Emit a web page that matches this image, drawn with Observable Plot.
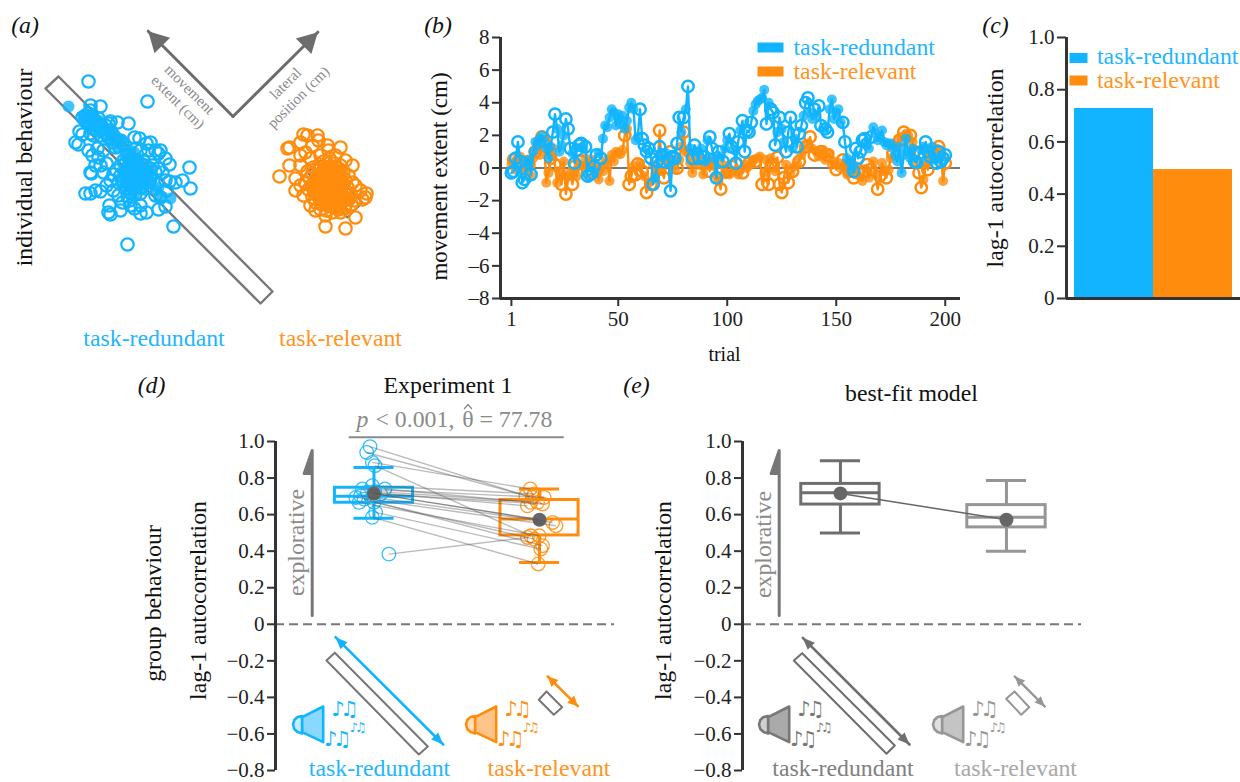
<!DOCTYPE html>
<html><head><meta charset="utf-8">
<script src="https://cdn.jsdelivr.net/npm/d3@7"></script>
<script src="https://cdn.jsdelivr.net/npm/@observablehq/plot@0.6"></script>
<style>
html,body{margin:0;padding:0;background:#fff}
#page{position:relative;width:1240px;height:782px;overflow:hidden}
#page svg{position:absolute;background:transparent}
g[font-family="DejaVu Sans"] text{letter-spacing:-0.22em}
</style></head><body><div id="page"></div>
<script>
const BLUE="#12B4FF", ORANGE="#FF8C0D", SERIF="Liberation Serif", TEXTBLUE="#1FB6FF", TEXTORANGE="#FF9420";

// (a) scatter
const scatterRedundantOpen=[[88,81],[147,101],[127,244],[173,226],[90,105],[100,106],[189,167],[182,180],[190,188],[175,182],[166,190],[169,181],[158,209],[165,206],[160,197],[110,121],[117,122],[128,123],[134,137],[139,138],[146,143],[150,142],[155,150],[158,153],[169,164],[120,140],[108,123],[79,131],[82,134],[78,144],[75,142],[90,133],[93,135],[97,148],[103,150],[88,150],[92,155],[98,157],[106,163],[100,165],[103,172],[91,173],[113,174],[90,172],[95,165],[110,180],[85,193],[90,193],[95,190],[100,191],[109,205],[110,214],[108,212],[120,210],[122,202],[130,205],[140,213],[146,212],[140,205],[155,195],[134,208],[129,200],[118,195],[113,190],[106,185],[150,178],[162,172],[165,180],[160,150],[165,158],[148,150],[140,150],[135,148],[128,155],[143,160],[152,165],[158,168],[132,170],[127,180],
[82,117],[85,115],[88,113],[91,117],[86,122],[90,124],[94,120],[98,118],[95,125],[100,124],[92,128],[97,130],[102,129],[105,125],[100,135],[105,133],[110,130],[108,137],[113,135],[112,142],[117,140],[118,146],[122,143],[115,147],[85,120],[90,110],
[116,170],[120,165],[125,163],[130,160],[135,160],[140,163],[145,165],[150,168],[155,172],[120,175],[125,172],[130,170],[135,168],[140,170],[145,172],[150,175],[118,182],[122,180],[128,178],[133,176],[138,178],[143,180],[148,182],[125,188],[130,185],[135,186],[140,187],[145,188],[130,192],[135,194],[140,193],[127,196],[123,160],[128,167],[137,173]];
const scatterRedundantFilled=[[68,106],[158,187],[170,198],[161,196],[155,190],[125,155],[130,150],[135,160],[83,116],[88,118],[93,114],[86,124],[92,122],[98,120],[96,127],[102,124],[100,131],[106,128],[106,135],[112,133],[111,140],[116,139],[118,145],[122,140],[127,163],[133,161],[139,165],[145,168],[151,170],[122,170],[128,172],[134,170],[140,172],[146,175],[152,176],[120,178],[126,180],[132,178],[138,180],[144,182],[150,182],[125,186],[131,186],[137,187],[143,187],[130,191],[136,192],[134,152],[128,158]];
const scatterRelevantOpen=[[279,176],[289,147],[287,148],[289,165],[303,134],[307,135],[317,135],[300,142],[312,145],[318,140],[300,155],[305,152],[310,158],[300,165],[295,178],[300,185],[295,190],[303,195],[310,205],[315,210],[325,215],[345,228],[325,226],[340,212],[355,217],[362,199],[366,193],[365,197],[360,190],[355,185],[352,165],[345,160],[340,147],[327,145],[335,155],[340,165],[348,175],[352,182],[320,155],[328,150],
[323,161],[329,158],[334,163],[313,167],[319,164],[326,167],[331,166],[338,168],[343,171],[307,171],[312,173],[318,170],[324,172],[330,174],[336,173],[342,176],[309,178],[315,180],[321,177],[327,179],[333,178],[339,181],[345,180],[305,182],[311,185],[317,183],[323,186],[329,184],[335,186],[341,185],[347,187],[308,189],[314,191],[320,190],[326,192],[332,190],[338,192],[344,191],[350,193],[312,197],[318,196],[324,198],[330,197],[336,199],[342,197],[348,199],[354,200],[315,202],[321,204],[327,203],[333,205],[339,203],[345,205],[351,204],[320,209],[326,210],[332,212],[338,209],[344,208]];
const scatterRelevantFilled=[[322,168],[328,165],[334,168],[340,172],[316,175],[322,174],[328,172],[334,176],[340,178],[314,182],[320,181],[326,182],[332,181],[338,184],[344,183],[312,188],[318,187],[324,189],[330,188],[336,189],[342,188],[316,194],[322,195],[328,194],[334,195],[340,195],[346,196],[320,200],[326,201],[332,200],[338,201],[344,201],[350,199],[328,207],[334,208],[340,206]];

// (b) movement extent per trial
const redundantExtent=[-0.3,-0.2,0.6,1.6,0.4,-0.9,-0.7,0.3,0.5,-0.4,1.0,1.6,1.4,1.8,2.0,1.6,1.2,0.6,1.3,2.2,3.3,2.4,1.0,1.4,2.0,3.0,2.4,1.2,0.9,0.3,1.1,1.4,1.5,1.2,1.3,-0.5,-0.4,-0.3,0.1,0.8,0.9,0.6,1.8,2.6,2.5,3.1,3.6,3.4,2.6,3.3,2.7,3.2,2.4,2.9,3.7,4.0,3.6,1.7,1.9,3.6,1.8,1.4,1.0,1.2,0.6,-1.0,-0.6,0.4,1.3,0.8,0.4,0.9,0.5,-1.4,0.7,0.6,1.5,3.1,2.2,3.1,3.6,5.0,1.2,0.6,1.4,1.0,0.6,1.2,0.7,0.4,1.7,1.9,1.2,0.6,-0.6,1.0,0.7,0.4,1.2,1.7,2.1,1.3,1.1,0.3,1.6,2.3,2.9,1.0,2.3,2.2,2.8,3.5,3.9,4.1,4.2,4.3,4.8,2.7,4.0,3.6,3.4,1.4,2.2,3.1,2.4,1.6,1.0,2.2,3.1,1.2,1.8,1.3,2.1,2.6,3.2,4.0,4.3,3.4,3.0,3.6,3.2,3.8,2.6,2.4,2.4,2.2,3.6,4.2,3.0,3.4,3.6,2.8,2.8,1.6,0.6,0.4,-0.1,-0.2,1.2,0.6,1.0,1.7,1.8,1.4,1.2,1.9,2.5,2.1,1.7,1.9,2.3,1.6,1.4,1.5,1.5,1.2,0.8,0.4,1.3,-0.3,0.8,1.8,1.0,0.6,1.2,0.4,0.35,0.9,1.1,1.3,1.6,1.0,0.7,1.3,0.5,0.3,1.0,0.4,0.6,0.8];
const relevantExtent=[0.2,0.5,-0.1,0.4,0.7,0.3,-0.2,0.5,0.2,-0.5,0.6,1.0,1.6,0.8,1.9,1.6,-0.9,-0.3,0.6,1.2,0.2,-0.9,-0.2,-1.0,0.4,-1.6,-0.5,-0.3,-1.0,0.1,-0.5,0.2,0.4,0.1,0.6,-0.2,0.3,0.5,-0.1,-0.2,-0.7,0.1,-0.2,0.3,0.5,-0.8,0.8,0.4,1.0,0.9,0.85,1.1,2.0,2.4,-1.0,-0.5,0.1,-0.4,0.25,0.3,-0.2,-0.5,-1.5,-0.9,-1.0,0.2,-0.4,-0.1,2.3,-0.2,-0.6,0.6,0.3,1.0,0.5,-0.1,0.0,0.5,1.3,2.2,1.0,0.9,0.3,-0.3,0.6,0.2,0.8,0.3,-0.4,0.1,0.5,-0.2,0.4,0.1,-0.5,-0.8,-1.3,0.2,-0.4,-0.2,-0.4,0.1,-0.2,0.25,-0.4,-0.1,-0.3,0.2,0.0,0.3,0.3,0.5,0.4,0.6,0.7,-1.0,-0.3,0.5,-1.0,0.6,0.2,-0.2,0.65,-1.0,-1.5,-0.6,0.2,-0.9,-0.3,-0.2,0.1,0.3,0.4,0.8,1.1,1.3,1.5,1.9,1.2,0.8,1.0,0.7,1.0,1.1,0.5,0.8,0.9,0.2,0.4,-0.1,0.3,0.0,0.5,0.2,-0.4,-0.2,0.3,-0.6,0.1,-0.3,-0.5,-0.8,-0.2,0.2,-0.6,-0.1,0.4,-0.4,-1.3,-0.5,0.3,-0.2,-0.6,-0.1,0.6,0.9,1.3,1.6,1.7,1.9,2.2,2.1,2.0,2.0,1.6,1.0,0.2,-0.3,-1.2,-0.7,0.3,-0.1,0.5,0.9,1.0,1.2,1.3,1.0,-0.8,0.3];
const redundantOpenTrials=[1,2,3,4,5,6,7,10,20,21,26,27,28,30,31,32,33,35,36,37,38,39,40,42,60,61,62,63,64,65,66,68,69,70,71,73,74,75,76,77,78,80,82,84,85,87,89,92,93,95,96,98,101,102,104,105,107,108,109,110,111,118,120,121,122,124,127,128,129,132,133,134,136,137,140,142,143,145,146,153,154,158,159,160,161,162,163,166,186,187,188,191,192,193,196,197,198,199,200];
const relevantOpenTrials=[2,4,6,9,12,15,16,19,21,24,26,29,30,33,36,40,53,55,56,58,59,61,63,65,69,71,74,77,80,85,88,92,97,100,102,104,107,110,113,116,119,121,123,124,125,126,128,130,133,136,138,140,143,146,150,153,156,158,160,163,164,166,169,170,173,176,179,181,184,186,188,189,192,194,197,200];
const trialTicks=[1,50,100,150,200];
const extentTicks=[-8,-6,-4,-2,0,2,4,6,8];

// (c) single participant autocorrelation
const conditions=["task-redundant","task-relevant"];
const autocorr=[0.728,0.494];
const autoTicks=[0,0.2,0.4,0.6,0.8,1.0];
const groupTicks=[-0.8,-0.6,-0.4,-0.2,0,0.2,0.4,0.6,0.8,1.0];

// (d) participants: redundant value, relevant value, horizontal jitter of each
const subjRedundant=[0.972,0.940,0.886,0.868,0.758,0.740,0.740,0.727,0.722,0.713,0.703,0.694,0.685,0.667,0.667,0.612,0.585,0.384];
const subjRelevant=[0.703,0.694,0.740,0.484,0.713,0.694,0.667,0.667,0.648,0.658,0.557,0.539,0.430,0.484,0.466,0.412,0.330,0.475];
const jitterRedundant=[-0.024,-0.044,-0.01,0.006,-0.01,-0.07,0.066,0.004,-0.04,0.04,-0.08,-0.11,-0.06,-0.09,0,0.01,-0.01,0.09];
const jitterRelevant=[0.917,0.958,0.944,0.948,0.968,1.028,0.948,0.988,0.927,1.018,1.079,1.099,1.018,0.998,0.968,1.008,0.992,0.927];
// box statistics: [low whisker, q1, median, q3, high whisker, mean]
const boxExperiment=[[0.58,0.665,0.70,0.747,0.858,0.715],[0.338,0.486,0.576,0.68,0.74,0.572]];
const boxModel=[[0.50,0.655,0.72,0.768,0.895,0.716],[0.40,0.530,0.585,0.652,0.786,0.572]];

const page=document.getElementById("page");
function place(svg,left,top){svg.style.left=left+"px";svg.style.top=top+"px";page.appendChild(svg);}
const baseStyle={fontFamily:SERIF,fontSize:"21px",background:"transparent",color:"#222"};
const oneDec=d=>d===0?"0":d3.format(".1f")(d).replace("-","\u2013");

// ---------- (b)
function seriesMarks(values,openTrials,color){
  const rows=values.map((v,i)=>({t:i+1,v,open:openTrials.includes(i+1)}));
  return [
    Plot.line(rows,{x:"t",y:"v",stroke:color,strokeWidth:2.4}),
    Plot.dot(rows.filter(d=>!d.open),{x:"t",y:"v",r:5,fill:color,fillOpacity:0.8,stroke:"none"}),
    Plot.dot(rows.filter(d=>d.open),{x:"t",y:"v",r:5.7,fill:"none",stroke:color,strokeWidth:2.5})
  ];
}
place(Plot.plot({width:540,height:330,marginLeft:70,marginRight:10,marginTop:17,marginBottom:52,style:baseStyle,
  x:{domain:[-4,207],axis:null},y:{domain:[-8,8]},
  marks:[
    Plot.ruleY([0],{stroke:"#777",strokeWidth:2}),
    ...seriesMarks(relevantExtent,relevantOpenTrials,ORANGE),
    ...seriesMarks(redundantExtent,redundantOpenTrials,BLUE),
    Plot.ruleX([-4],{stroke:"#333",strokeWidth:3}),
    Plot.ruleY([-8],{stroke:"#333",strokeWidth:3}),
    Plot.axisY({ticks:extentTicks,tickSize:8,tickPadding:3,label:null,strokeWidth:2,stroke:"#333",tickFormat:d=>String(d).replace("-","\u2013")}),
    Plot.axisX({ticks:trialTicks,tickSize:8,tickPadding:5,label:null,strokeWidth:2,stroke:"#333"})
  ]}),430,20);

// ---------- (c)
place(Plot.plot({width:265,height:290,marginLeft:91,marginRight:0,marginTop:17,marginBottom:12,style:baseStyle,
  x:{domain:conditions,range:[98,257],padding:0,axis:null},y:{domain:[0,1]},
  color:{domain:conditions,range:[BLUE,ORANGE]},
  marks:[
    Plot.barY(conditions,{x:d=>d,y:(d,i)=>autocorr[i],fill:d=>d}),
    Plot.ruleY([0],{stroke:"#333",strokeWidth:3}),
    Plot.axisY({ticks:autoTicks,tickSize:9,tickPadding:3,label:null,strokeWidth:2,stroke:"#333",tickFormat:oneDec})
  ]}),975,20);
// left spine of (c)
place(Plot.plot({width:10,height:290,marginLeft:0,marginRight:0,marginTop:17,marginBottom:12,style:baseStyle,
  x:{domain:[0,1],axis:null},y:{domain:[0,1],axis:null},
  marks:[Plot.ruleX([0.5],{stroke:"#333",strokeWidth:3})]}),1061,20);

// ---------- (d) and (e)
function boxMarks(stats,colors){
  const rows=stats.map((s,i)=>({p:i,lo:s[0],q1:s[1],med:s[2],q3:s[3],hi:s[4],mean:s[5],c:colors[i]}));
  const W=0.236,C=0.121;
  return [
    Plot.ruleX(rows,{x:"p",y1:"lo",y2:"q1",stroke:"c",strokeWidth:3}),
    Plot.ruleX(rows,{x:"p",y1:"q3",y2:"hi",stroke:"c",strokeWidth:3}),
    Plot.ruleY(rows,{y:"lo",x1:d=>d.p-C,x2:d=>d.p+C,stroke:"c",strokeWidth:3}),
    Plot.ruleY(rows,{y:"hi",x1:d=>d.p-C,x2:d=>d.p+C,stroke:"c",strokeWidth:3}),
    Plot.rect(rows,{x1:d=>d.p-W,x2:d=>d.p+W,y1:"q1",y2:"q3",fill:"none",stroke:"c",strokeWidth:3}),
    Plot.ruleY(rows,{y:"med",x1:d=>d.p-W,x2:d=>d.p+W,stroke:"c",strokeWidth:3}),
    Plot.dot(rows,{x:"p",y:"mean",r:7,fill:"#666",stroke:"none"})
  ];
}
const subj=subjRedundant.map((v,i)=>({a:v,b:subjRelevant[i],ja:jitterRedundant[i],jb:jitterRelevant[i]}));
place(Plot.plot({width:420,height:352,marginLeft:75,marginRight:6,marginTop:11,marginBottom:12,style:baseStyle,
  x:{domain:[-0.595,1.453],axis:null},y:{domain:[-0.8,1]},
  marks:[
    Plot.ruleY([0],{stroke:"#777",strokeWidth:2,strokeDasharray:"9 5"}),
    Plot.dot(subj,{x:"ja",y:"a",r:6.8,fill:"none",stroke:BLUE,strokeOpacity:0.85,strokeWidth:1.3}),
    Plot.dot(subj,{x:"jb",y:"b",r:6.8,fill:"none",stroke:ORANGE,strokeOpacity:0.85,strokeWidth:1.3}),
    ...boxMarks(boxExperiment,[BLUE,ORANGE]),
    Plot.link(subj,{x1:"ja",y1:"a",x2:"jb",y2:"b",stroke:"#555",strokeOpacity:0.4,strokeWidth:1.4}),
    Plot.link([0],{x1:()=>0,y1:()=>boxExperiment[0][5],x2:()=>1,y2:()=>boxExperiment[1][5],stroke:"#555",strokeOpacity:0.7,strokeWidth:1.4}),
    Plot.ruleX([-0.595],{stroke:"#333",strokeWidth:3}),
    Plot.axisY({ticks:groupTicks,tickSize:8,tickPadding:3,label:null,strokeWidth:2,stroke:"#333",tickFormat:oneDec})
  ]}),200,430);
place(Plot.plot({width:420,height:352,marginLeft:77,marginRight:4,marginTop:11,marginBottom:12,style:baseStyle,
  x:{domain:[-0.59,1.452],axis:null},y:{domain:[-0.8,1]},
  marks:[
    Plot.ruleY([0],{stroke:"#777",strokeWidth:2,strokeDasharray:"9 5"}),
    ...boxMarks(boxModel,["#6E6E6E","#969696"]),
    Plot.link([0],{x1:()=>0,y1:()=>boxModel[0][5],x2:()=>1,y2:()=>boxModel[1][5],stroke:"#666",strokeWidth:1.5}),
    Plot.ruleX([-0.59],{stroke:"#333",strokeWidth:3}),
    Plot.axisY({ticks:groupTicks,tickSize:8,tickPadding:3,label:null,strokeWidth:2,stroke:"#333",tickFormat:oneDec})
  ]}),665,430);

// ---------- full-page schematic layer: panel (a), labels, speakers, arrows
const pts=a=>a.map(([x,y])=>({x,y}));
function poly(points,o){return Plot.line(pts(points),{x:"x",y:"y",...o});}
function closed(points){return [...points,points[0],points[1]];}
function head(from,to,len,wid){
  const dx=to[0]-from[0],dy=to[1]-from[1],n=Math.hypot(dx,dy),ux=dx/n,uy=dy/n;
  const bx=to[0]-ux*len,by=to[1]-uy*len;
  return [to,[bx-uy*wid/2,by+ux*wid/2],[bx+uy*wid/2,by-ux*wid/2],to];
}
function arrow(a,b,color,sw,len,wid,both=true){
  const m=[poly([a,b],{stroke:color,strokeWidth:sw}),poly(head(a,b,len,wid),{fill:color,stroke:"none"})];
  if(both)m.push(poly(head(b,a,len,wid),{fill:color,stroke:"none"}));
  return m;
}
const swatch=(a,b,c)=>poly([a,b],{stroke:c,strokeWidth:10,strokeLinecap:"butt"});
const bodyOutline=[[301.7,716.7],[322.7,706],[322.7,741.7],[301.7,731.7]];
const capOutline=[[301.7,715.5],[297,716.5],[293.8,719.5],[292.5,724],[293.8,728.5],[297,731.5],[301.7,733]];
function notes(cx,cy,size,fill){
  return txt("\u266A\u266B",cx,cy,{fontFamily:"DejaVu Sans",fontSize:size,fill});
}
function speaker(dx,dy,stroke,fill,capFill){
  const s=p=>p.map(([x,y])=>[x+dx,y+dy]);
  return [
    poly(closed(s(capOutline)),{fill:capFill,stroke,strokeWidth:2.6}),
    poly(closed(s(bodyOutline)),{fill,stroke,strokeWidth:2.6}),
    notes(342.3+dx,708.3+dy,21,stroke),
    notes(335+dx,738.3+dy,21,stroke),
    notes(356+dx,727.3+dy,13,stroke)
  ];
}
function txt(t,x,y,o={}){return Plot.text([{t,x,y}],{x:"x",y:"y",text:"t",fontSize:23.8,lineAnchor:"middle",fill:"#111",...o});}
const gray="#8A8A8A";
place(Plot.plot({width:1240,height:782,margin:0,style:baseStyle,
  x:{domain:[0,1240],range:[0,1240],axis:null},y:{domain:[0,782],range:[0,782],axis:null},
  marks:[
    // panel (a) frame + axes
    poly(closed([[45,88],[58,76],[272,291],[260,303]]),{stroke:"#777",strokeWidth:2.4}),
    poly(closed([[307,172],[320,160],[362,202],[347,217]]),{stroke:"#777",strokeWidth:2}),
    ...arrow([232.5,116],[147.7,30.7],"#6C6C6C",3,20,22,false),
    ...arrow([232.5,116],[317.3,31.7],"#6C6C6C",3,20,22,false),
    txt("movement",189,89,{fontSize:15,fill:gray,rotate:45}),
    txt("extent (cm)",177.5,101.7,{fontSize:15,fill:gray,rotate:45}),
    txt("lateral",285,83,{fontSize:15,fill:gray,rotate:-45}),
    txt("position (cm)",298,96.7,{fontSize:15,fill:gray,rotate:-45}),
    Plot.dot(pts(scatterRedundantOpen),{x:"x",y:"y",r:6.2,fill:"none",stroke:BLUE,strokeWidth:2.2}),
    Plot.dot(pts(scatterRedundantFilled),{x:"x",y:"y",r:6,fill:BLUE,fillOpacity:0.8}),
    Plot.dot(pts(scatterRelevantOpen),{x:"x",y:"y",r:6.2,fill:"none",stroke:ORANGE,strokeWidth:2.2}),
    Plot.dot(pts(scatterRelevantFilled),{x:"x",y:"y",r:6,fill:ORANGE}),
    // panel letters
    txt("(a)",24.5,25,{fontStyle:"italic"}),
    txt("(b)",437.5,25,{fontStyle:"italic"}),
    txt("(c)",995,25,{fontStyle:"italic"}),
    txt("(d)",151,385,{fontStyle:"italic"}),
    txt("(e)",636,385,{fontStyle:"italic"}),
    // axis / side labels
    txt("individual behaviour",24,167,{rotate:-90}),
    txt("movement extent (cm)",439,176,{rotate:-90,fontSize:23}),
    txt("trial",724,354,{fontSize:20}),
    txt("lag-1 autocorrelation",995,167.5,{rotate:-90}),
    txt("group behaviour",153,603,{rotate:-90}),
    txt("lag-1 autocorrelation",198,600,{rotate:-90}),
    txt("lag-1 autocorrelation",663,600,{rotate:-90}),
    // legends and condition labels
    txt(conditions[0],153.5,338,{fill:TEXTBLUE}),
    txt(conditions[1],340,338,{fill:TEXTORANGE}),
    swatch([757,47],[783,47],BLUE),
    swatch([757,71],[783,71],ORANGE),
    txt(conditions[0],793,47,{fill:TEXTBLUE,textAnchor:"start"}),
    txt(conditions[1],793,71,{fill:TEXTORANGE,textAnchor:"start"}),
    swatch([1069,57.5],[1087,57.5],BLUE),
    swatch([1069,80],[1087,80],ORANGE),
    txt(conditions[0],1096.5,56,{fill:TEXTBLUE,textAnchor:"start"}),
    txt(conditions[1],1096.5,80,{fill:TEXTORANGE,textAnchor:"start"}),
    // titles
    txt("Experiment 1",447.5,385),
    txt("best-fit model",911,393),
    txt("p",362,419,{fill:gray,fontStyle:"italic"}),
    txt("< 0.001,",375,419,{fill:gray,textAnchor:"start"}),
    txt("\u03B8",467.5,419,{fill:gray}),
    poly([[464,408],[467.5,404],[471,408]],{stroke:gray,strokeWidth:1.3}),
    txt("= 77.78",479,419,{fill:gray,textAnchor:"start"}),
    poly([[349,436.7],[562.5,436.7]],{stroke:gray,strokeWidth:2}),
    // explorative arrows
    poly([[311.7,615],[311.7,450],[303.7,473],[311.7,473]],{stroke:"#777",strokeWidth:3,fill:"#777"}),
    txt("explorative",296,542,{rotate:-90,fill:gray}),
    poly([[778.7,615],[778.7,450],[770.7,473],[778.7,473]],{stroke:"#777",strokeWidth:3,fill:"#777"}),
    txt("explorative",763,544,{rotate:-90,fill:gray}),
    // (d) schematic
    poly(closed([[326,660],[334.3,652.3],[427.3,746],[418.3,754]]),{stroke:"#777",strokeWidth:2,fill:"#fff"}),
    ...arrow([335,636.7],[442.7,744],BLUE,2.6,12,10),
    ...speaker(0,0,BLUE,"#8BD8FF","#C6ECFF"),
    poly(closed([[538.3,699.3],[546,691],[561.7,706.7],[553.3,714.3]]),{stroke:"#777",strokeWidth:2,fill:"#fff"}),
    ...arrow([547.3,676],[577.3,705.7],ORANGE,2.6,10,10),
    ...speaker(173,0,ORANGE,"#FFC48A","#FFE0C0"),
    txt(conditions[0],379,768,{fill:TEXTBLUE}),
    txt(conditions[1],548.5,768,{fill:TEXTORANGE}),
    // (e) schematic
    poly(closed([[793.3,660],[801.7,652.7],[894.3,745],[886,753.3]]),{stroke:"#6E6E6E",strokeWidth:2,fill:"#fff"}),
    ...arrow([802.3,637.3],[909,744],"#6E6E6E",2.6,12,10),
    ...speaker(466,0,"#777","#AAAAAA","#D0D0D0"),
    poly(closed([[1005.7,698.3],[1014,691],[1028.7,706.7],[1020.7,714.3]]),{stroke:"#969696",strokeWidth:2,fill:"#fff"}),
    ...arrow([1014.3,676],[1044.3,706],"#969696",2.4,10,9),
    ...speaker(640,0,"#969696","#C4C4C4","#E0E0E0"),
    txt(conditions[0],842.5,768,{fill:"#808080"}),
    txt(conditions[1],1015,768,{fill:"#A8A8A8"})
  ]}),0,0);
</script></body></html>
